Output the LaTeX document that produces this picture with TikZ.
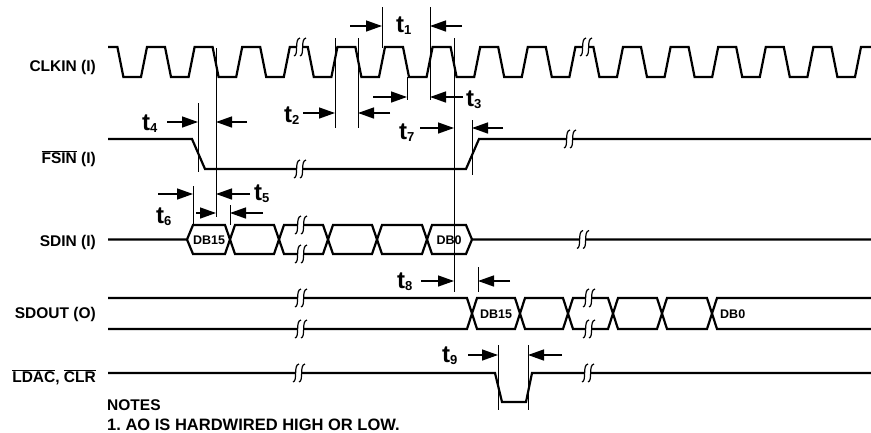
\documentclass[tikz,border=0pt]{standalone}
\usepackage{fontspec}
\setmainfont{Liberation Sans}
\usetikzlibrary{arrows.meta, positioning}

\newcommand{\ovl}[1]{$\overline{\mbox{#1}}$}
\newcommand{\tsub}[1]{t\raisebox{-2.5pt}{\fontsize{13}{13}\selectfont #1}}
% break mark: gap with two squiggles
\newcommand{\wavebreak}[2]{%
  \fill[white] ({#1-3},{#2-2}) rectangle ({#1+3},{#2+2});
  \draw[brkline] ({#1-6},{#2+9}) .. controls ({#1-1},{#2+8}) and ({#1-6},{#2-8}) .. ({#1},{#2-9});
  \draw[brkline] ({#1},{#2+9}) .. controls ({#1+5},{#2+8}) and ({#1},{#2-8}) .. ({#1+6},{#2-9});
}

\begin{document}
\begin{tikzpicture}[
    x=1pt, y=-1pt,
    wave/.style={line width=2.2pt},
    guide/.style={line width=0.8pt},
    brkline/.style={line width=1.2pt},
    tarr/.style={-{Triangle[length=16pt, width=11pt]}, line width=1.4pt},
    sig/.style={anchor=base east, inner sep=0pt, font=\bfseries\fontsize{15.5}{15.5}\selectfont},
    tl/.style={anchor=base west, inner sep=0pt, font=\bfseries\fontsize{24}{24}\selectfont},
    dat/.style={inner sep=0pt, font=\bfseries\fontsize{12.5}{12.5}\selectfont},
    note/.style={anchor=base west, inner sep=0pt, font=\bfseries\fontsize{15.5}{15.5}\selectfont}
]
\useasboundingbox (0,0) rectangle (871,432);

% Signal names
\node[sig] (clk_lbl) at (96,71) {CLKIN (I)};
\node[sig] (fsin_lbl) at (96,163) {\ovl{FSIN} (I)};
\node[sig] (sdin_lbl) at (96,246.5) {SDIN (I)};
\node[sig] (sdout_lbl) at (96,318.5) {SDOUT (O)};
\node[sig] (ldac_lbl) at (96,382) {\ovl{LDAC}, \ovl{CLR}};

% Clock
\draw[wave] (108,47)
  \foreach \k in {0,...,15} {
    -- ({117.4+47.6*\k},47) -- ({123.4+47.6*\k},77)
    -- ({141+47.6*\k},77) -- ({147+47.6*\k},47)
  } -- (871,47);

% Frame sync
\draw[wave] (108,139) -- (192,139) -- (205,169) -- (466,169) -- (479,139) -- (871,139);

% Serial data in
\draw[wave] (108,239.5) -- (187,239.5) -- (193,225) -- (225,225) -- (235,254) -- (274,254)
  -- (284,225) -- (323,225) -- (333,254) -- (372,254) -- (382,225) -- (422,225)
  -- (432,254) -- (466,254) -- (472,239.5) -- (871,239.5);
\draw[wave] (187,239.5) -- (193,254) -- (225,254) -- (235,225) -- (274,225) -- (284,254)
  -- (323,254) -- (333,225) -- (372,225) -- (382,254) -- (422,254) -- (432,225)
  -- (466,225) -- (472,239.5);
\node[dat] (sdin_db15) at (209,240) {DB15};
\node[dat] (sdin_db0) at (449,240) {DB0};

% Serial data out
\draw[wave] (108,298) -- (467,298) -- (477,329) -- (515,329) -- (525,298) -- (563,298)
  -- (573,329) -- (608,329) -- (618,298) -- (657,298) -- (667,329) -- (707,329)
  -- (717,298) -- (871,298);
\draw[wave] (108,329) -- (467,329) -- (477,298) -- (515,298) -- (525,329) -- (563,329)
  -- (573,298) -- (608,298) -- (618,329) -- (657,329) -- (667,298) -- (707,298)
  -- (717,329) -- (871,329);
\node[dat] (sdout_db15) at (496,314) {DB15};
\node[dat, anchor=west] (sdout_db0) at (720,314) {DB0};

% Load DAC / clear
\draw[wave] (108,373) -- (495,373) -- (502,402) -- (526,402) -- (532,373) -- (871,373);

% Breaks
\wavebreak{300}{47}
\wavebreak{586}{47}
\wavebreak{300}{169}
\wavebreak{570}{139}
\wavebreak{301}{225}
\wavebreak{301}{254}
\wavebreak{583}{239.5}
\wavebreak{301}{298}
\wavebreak{301}{329}
\wavebreak{589}{298}
\wavebreak{589}{329}
\wavebreak{299}{373}
\wavebreak{588}{373}

% Timing guides
\draw[guide] (382,7) -- (382,48);
\draw[guide] (430,7) -- (430,100);
\draw[guide] (335,38) -- (335,128);
\draw[guide] (358,38) -- (358,128);
\draw[guide] (407,77) -- (407,100);
\draw[guide] (454,38) -- (454,292);
\draw[guide] (216,48) -- (216,217);
\draw[guide] (198,103) -- (198,172);
\draw[guide] (193,186) -- (193,225);
\draw[guide] (230,205) -- (230,225);
\draw[guide] (472,120) -- (472,175);
\draw[guide] (478,267) -- (478,292);
\draw[guide] (498,345) -- (498,410);
\draw[guide] (528,345) -- (528,410);

% Timing arrows
\draw[tarr] (350,26) -- (382,26);
\draw[tarr] (462,26) -- (430,26);
\draw[tarr] (303,113) -- (335,113);
\draw[tarr] (390,113) -- (358,113);
\draw[tarr] (373,97) -- (407,97);
\draw[tarr] (463,97) -- (430,97);
\draw[tarr] (167,122) -- (198,122);
\draw[tarr] (247,122) -- (216,122);
\draw[tarr] (158,194) -- (193,194);
\draw[tarr] (250,194) -- (216,194);
\draw[tarr] (196,213) -- (216,213);
\draw[tarr] (263,213) -- (230,213);
\draw[tarr] (420,128) -- (454,128);
\draw[tarr] (503,128) -- (472,128);
\draw[tarr] (421,281) -- (454,281);
\draw[tarr] (510,281) -- (478,281);
\draw[tarr] (468,355) -- (498,355);
\draw[tarr] (562,355) -- (528,355);

% Timing labels
\node[tl] (t1_lbl) at (396,32) {\tsub{1}};
\node[tl] (t2_lbl) at (284,122) {\tsub{2}};
\node[tl] (t3_lbl) at (466,106) {\tsub{3}};
\node[tl] (t4_lbl) at (142,130) {\tsub{4}};
\node[tl] (t5_lbl) at (254,200) {\tsub{5}};
\node[tl] (t6_lbl) at (156,223) {\tsub{6}};
\node[tl] (t7_lbl) at (399,139) {\tsub{7}};
\node[tl] (t8_lbl) at (397,288) {\tsub{8}};
\node[tl] (t9_lbl) at (442,362) {\tsub{9}};

% Notes
\node[note] (notes_hd) at (107,410) {NOTES};
\node[note, font=\bfseries\fontsize{16.5}{16.5}\selectfont, below=8pt of notes_hd.south west, anchor=north west] (notes_1) {1.\ AO IS HARDWIRED HIGH OR LOW.};

\end{tikzpicture}
\end{document}
